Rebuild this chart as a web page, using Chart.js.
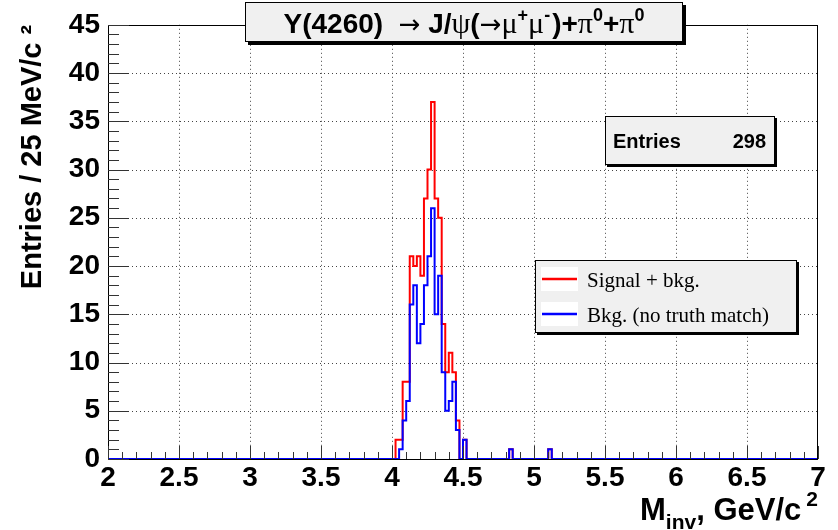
<!DOCTYPE html>
<html><head><meta charset="utf-8">
<script src="https://cdn.jsdelivr.net/npm/chart.js@4.4.1/dist/chart.umd.min.js"></script>
<style>html,body{margin:0;padding:0;background:#fff;}#wrap{width:838px;height:530px;position:relative;}</style>
</head><body><div id="wrap"><canvas id="c"></canvas></div>
<script>
// ---------------- data ----------------
const binWidth = 0.025;               // GeV (25 MeV bins)
const xRange = [2, 7];
const yRange = [0, 45];
const xTickLabels = ["2","2.5","3","3.5","4","4.5","5","5.5","6","6.5","7"];
const yTickLabels = ["0","5","10","15","20","25","30","35","40","45"];
const seriesNames = ["Signal + bkg.", "Bkg. (no truth match)"];
const seriesColors = ["#ff0000", "#0000ff"];
// lower edges of the non-empty bins and their counts
const sigBinLow = [4.025,4.05,4.075,4.1,4.125,4.15,4.175,4.2,4.225,4.25,4.275,4.3,4.325,4.35,4.375,4.4,4.425,4.45,4.5,4.825,5.1];
const sigCounts = [2,2,8,8,21,20,21,19,27,30,37,27,25,14,9,11,9,4,2,1,1];
const bkgBinLow = [4.05,4.075,4.1,4.125,4.15,4.175,4.2,4.225,4.25,4.275,4.3,4.325,4.35,4.375,4.4,4.425,4.45,4.5,4.825,5.1];
const bkgCounts = [1,4,6,16,18,12,14,18,21,26,15,19,9,5,6,8,3,2,1,1];
const titleText = "Y(4260)  \u2192 J/\u03C8(\u2192\u03BC\u207A\u03BC\u207B)+\u03C0\u2070+\u03C0\u2070";
const yTitle = "Entries / 25 MeV/c \u00B2";

// ---------------- helpers ----------------
function histPoints(lows, counts){
  const pts = [{x: xRange[0], y: 0}];
  for (let i = 0; i < lows.length; i++){
    pts.push({x: lows[i], y: counts[i]});
    const hi = +(lows[i] + binWidth).toFixed(4);
    const next = i + 1 < lows.length ? lows[i+1] : null;
    if (next === null || Math.abs(next - hi) > 1e-6) pts.push({x: hi, y: 0});
  }
  pts.push({x: xRange[1], y: 0});
  return pts;
}
const entries = sigCounts.reduce((a,b)=>a+b,0);
const SANS = '"Liberation Sans", Arial, Helvetica, sans-serif';
const SERIF = '"Liberation Serif", "Times New Roman", serif';
const SYM = '"DejaVu Sans", sans-serif';

function drawSegments(ctx, segs, x, y, align){
  let total = 0;
  segs.forEach(s => { ctx.font = s.f; s.w = ctx.measureText(s.t).width + (s.gap||0); total += s.w; });
  let cx = align === 'center' ? x - total/2 : (align === 'right' ? x - total : x);
  ctx.textAlign = 'left'; ctx.textBaseline = 'alphabetic'; ctx.fillStyle = '#000';
  segs.forEach(s => { ctx.font = s.f; ctx.fillText(s.t, cx + (s.pre||0), y + (s.dy||0)); cx += s.w; });
}
function box(ctx, x0, y0, x1, y1, shadow){
  ctx.save();
  if (shadow){ ctx.fillStyle = '#000'; ctx.fillRect(x0 + shadow, y0 + shadow, x1 - x0, y1 - y0); }
  ctx.fillStyle = '#f0f0f0'; ctx.fillRect(x0, y0, x1 - x0, y1 - y0);
  ctx.strokeStyle = '#000'; ctx.lineWidth = 1; ctx.strokeRect(x0 + .5, y0 + .5, x1 - x0 - 1, y1 - y0 - 1);
  ctx.restore();
}

const rootStyle = {
  id: 'rootStyle',
  beforeDatasetsDraw(chart){
    const {ctx, chartArea: a, scales: {x, y}} = chart;
    ctx.save();
    ctx.strokeStyle = '#444'; ctx.lineWidth = 1; ctx.setLineDash([1, 3]);
    xTickLabels.map(Number).forEach(v => {
      if (v <= xRange[0] || v >= xRange[1]) return;
      const px = Math.round(x.getPixelForValue(v)) + .5;
      ctx.beginPath(); ctx.moveTo(px, a.top); ctx.lineTo(px, a.bottom); ctx.stroke();
    });
    yTickLabels.map(Number).forEach(v => {
      if (v <= yRange[0] || v >= yRange[1]) return;
      const py = Math.round(y.getPixelForValue(v)) + .5;
      ctx.beginPath(); ctx.moveTo(a.left, py); ctx.lineTo(a.right, py); ctx.stroke();
    });
    ctx.restore();
  },
  afterDatasetsDraw(chart){
    const {ctx, chartArea: a, scales: {x, y}} = chart;
    ctx.save();
    ctx.strokeStyle = '#000'; ctx.lineWidth = 1;
    ctx.strokeRect(Math.round(a.left) + .5, Math.round(a.top) + .5, Math.round(a.right - a.left) - 1, Math.round(a.bottom - a.top));
    ctx.strokeStyle = '#333';
    // inward ticks: x every 0.1 (major 0.5), y every 1 (major 5)
    for (let k = 0; k <= 50; k++){
      const v = xRange[0] + k * 0.1;
      const px = Math.round(x.getPixelForValue(v)) + .5;
      const len = (k % 5 === 0) ? 13 : 7;
      ctx.beginPath(); ctx.moveTo(px, a.bottom); ctx.lineTo(px, a.bottom - len); ctx.stroke();
    }
    for (let k = 0; k <= 45; k++){
      const py = Math.round(y.getPixelForValue(k)) + .5;
      const len = (k % 5 === 0) ? 21 : 11;
      ctx.beginPath(); ctx.moveTo(a.left, py); ctx.lineTo(a.left + len, py); ctx.stroke();
    }
    ctx.restore();
  },
  afterDraw(chart){
    const ctx = chart.ctx;
    ctx.save();
    // title box
    box(ctx, 245, 2, 683, 42, 3);
    const B = 'bold 28px ' + SANS, Bs = 'bold 18px ' + SANS, S = '30px ' + SERIF, A = '26px ' + SYM;
    drawSegments(ctx, [
      {t:'Y(4260)', f:B}, {t:'  ', f:B}, {t:'\u2192', f:A}, {t:' J/', f:B}, {t:'\u03C8', f:S},
      {t:'(', f:B}, {t:'\u2192', f:A}, {t:'\u03BC', f:S}, {t:'+', f:Bs, dy:-12}, {t:'\u03BC', f:S},
      {t:'-', f:Bs, dy:-12, gap:2}, {t:')+', f:B}, {t:'\u03C0', f:S}, {t:'0', f:Bs, dy:-12},
      {t:'+', f:B}, {t:'\u03C0', f:S}, {t:'0', f:Bs, dy:-12}
    ], 464, 33, 'center');
    // statistics box
    box(ctx, 605, 116, 775, 165, 2);
    ctx.fillStyle = '#000'; ctx.font = 'bold 20px ' + SANS; ctx.textBaseline = 'alphabetic';
    ctx.textAlign = 'left'; ctx.fillText('Entries', 613, 148);
    ctx.textAlign = 'right'; ctx.fillText(String(entries), 766, 148);
    // legend
    box(ctx, 535, 260, 797, 333, 2);
    chart.data.datasets.forEach((ds, i) => {
      const ly = 279 + i * 35;
      ctx.fillStyle = '#fff'; ctx.fillRect(541, ly - 12, 37, 24);
      ctx.strokeStyle = ds.borderColor; ctx.lineWidth = 2.5;
      ctx.beginPath(); ctx.moveTo(542, ly); ctx.lineTo(577, ly); ctx.stroke();
      ctx.fillStyle = '#000'; ctx.font = '21px ' + SERIF; ctx.textAlign = 'left';
      ctx.fillText(ds.label, 587, ly + 8);
    });
    // x axis title with subscript / superscript
    const XB = 'bold 31px ' + SANS, XS = 'bold 21px ' + SANS;
    drawSegments(ctx, [
      {t:'M', f:XB}, {t:'inv', f:XS, dy:9}, {t:', GeV/c', f:XB, gap:5}, {t:'2', f:XS, dy:-14}
    ], 818, 520, 'right');
    ctx.restore();
  }
};

new Chart(document.getElementById('c'), {
  type: 'line',
  data: {
    datasets: [
      {label: seriesNames[0], data: histPoints(sigBinLow, sigCounts), borderColor: seriesColors[0], order: 1},
      {label: seriesNames[1], data: histPoints(bkgBinLow, bkgCounts), borderColor: seriesColors[1], order: 0}
    ]
  },
  options: {
    responsive: true, maintainAspectRatio: false, animation: false,
    devicePixelRatio: 1,
    parsing: false,
    elements: {line: {borderWidth: 2, stepped: true, tension: 0, fill: false}, point: {radius: 0}},
    layout: {padding: {top: 16, right: 20, left: 0, bottom: 0}},
    plugins: {legend: {display: false}, tooltip: {enabled: false}},
    scales: {
      x: {
        type: 'linear', min: xRange[0], max: xRange[1],
        afterFit: s => { s.height = 71; },
        afterBuildTicks: s => { s.ticks = xTickLabels.map(t => ({value: Number(t)})); },
        grid: {display: false, drawTicks: false}, border: {display: false},
        ticks: {autoSkip: false, maxRotation: 0, padding: 2, color: '#000',
          font: {family: SANS, size: 28, weight: 'bold'},
          callback: (v) => xTickLabels.find(t => Number(t) === v) ?? ''}
      },
      y: {
        type: 'linear', min: yRange[0], max: yRange[1],
        afterFit: s => { s.width = 108; },
        afterBuildTicks: s => { s.ticks = yTickLabels.map(t => ({value: Number(t)})); },
        grid: {display: false, drawTicks: false}, border: {display: false},
        ticks: {padding: 8, color: '#000', font: {family: SANS, size: 28, weight: 'bold'},
          callback: (v) => yTickLabels.find(t => Number(t) === v) ?? ''},
        title: {display: true, text: yTitle, align: 'end', color: '#000',
          font: {family: SANS, size: 29, weight: 'bold'}, padding: {top: 16, bottom: 0}}
      }
    }
  },
  plugins: [rootStyle]
});
</script></body></html>
